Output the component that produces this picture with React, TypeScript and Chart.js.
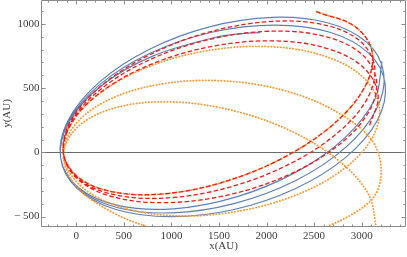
import React, { useEffect, useRef } from 'react';
import { Chart, registerables } from 'chart.js';

Chart.register(...registerables);

// Blue solid orbit (several precessing loops)
const blueX = [3213, 3142, 2825, 2310, 1675, 1018, 437, 22, -165,
  -87, 237, 759, 1399, 2059, 2639, 3051, 3231, 3153, 2829, 2307, 1667, 1007, 427, 15, -165,
  -79, 253, 781, 1425, 2087, 2665, 3073, 3247, 3161, 2829, 2301, 1657, 995, 417, 9, -165,
  -72, 268, 802, 1451, 1749, 1930];
const blueY = [708, 419, 115, -154, -349, -440, -413, -273, -40,
  248, 543, 799, 977, 1051, 1009, 858, 620, 332, 37, -219, -397, -471, -429, -278, -40,
  246, 531, 773, 935, 991, 935, 772, 530, 244, -41, -283, -445, -501, -445, -282, -40,
  243, 521, 749, 894, 925, 932];

// Red dashed orbit
const redX = [2525, 2932, 3111, 3042, 2739, 2243, 1633, 1001, 443, 44, -135,
  -59, 256, 759, 1375, 2011, 2568, 2963, 3135, 3059, 2744, 2241, 1625, 989, 432, 37, -135,
  -50, 273, 783, 1405, 2043, 2599, 2990, 3155, 3070, 2747, 2237, 1615, 977, 421, 30, -135,
  -41, 290, 808, 1435, 2074, 2630, 3015, 3173, 3079];
const redY = [1095, 978, 780, 522, 243, -15, -211, -317, -315, -208, -10,
  246, 514, 755, 932, 1017, 998, 878, 674, 418, 150, -91, -268, -353, -334, -214, -10,
  243, 501, 725, 880, 943, 905, 771, 562, 309, 51, -173, -328, -391, -353, -219, -10,
  239, 486, 692, 826, 868, 810, 663, 448, 199];

// Orange dotted orbit (strong precession)
const orangeX = [2525, 2932, 3111, 3042, 2739, 2243, 1633, 1001, 443, 44, -135,
  -35, 305, 828, 1459, 2100, 2654, 3035, 3187, 3087, 2748, 2224, 1593, 952, 399, 17, -135,
  3, 374, 921, 1561, 2197, 2732, 3105, 3205, 3090, 2560, 2100, 1500, 900, 400, -10, -135,
  32, 425, 983, 1621, 2243, 2751, 3072, 3155];
const orangeY = [1095, 978, 780, 522, 243, -15, -211, -317, -315, -208, -10,
  246, 491, 686, 801, 820, 738, 570, 340, 84, -162, -356, -471, -490, -409, -240, -10,
  229, 421, 535, 556, 479, 317, 95, -156, -380, -600, -680, -700, -610, -475, -255, -10,
  209, 350, 393, 330, 171, -60, -327, -590];

const xTickValues = [0, 500, 1000, 1500, 2000, 2500, 3000];
const xTickLabels = ['0', '500', '1000', '1500', '2000', '2500', '3000'];
const yTickValues = [-500, 0, 500, 1000];
const yTickLabels = ['\u2212 500', '0', '500', '1000'];

const X_MIN = -371;
const X_MAX = 3466;
const Y_MIN = -581;
const Y_MAX = 1186;

const FRAME = '#8a8a8a';
const LABEL = '#3c3c3c';
const FONT = "'Liberation Serif', 'Times New Roman', serif";

const pts = (xs: number[], ys: number[]) => xs.map((x, i) => ({ x, y: ys[i] }));

const framePlugin = {
  id: 'mmaFrame',
  beforeDatasetsDraw(chart: any) {
    const { ctx, chartArea: a, scales } = chart;
    const y0 = Math.round(scales.y.getPixelForValue(0)) + 0.5;
    ctx.save();
    ctx.strokeStyle = '#6a6a6a';
    ctx.lineWidth = 1;
    ctx.beginPath();
    ctx.moveTo(a.left, y0);
    ctx.lineTo(a.right, y0);
    ctx.stroke();
    ctx.restore();
  },
  afterDraw(chart: any) {
    const { ctx, chartArea: a, scales } = chart;
    const L = a.left + 0.5, R = a.right - 0.5, T = a.top + 0.5, B = a.bottom - 0.5;
    ctx.save();
    ctx.strokeStyle = FRAME;
    ctx.lineWidth = 1;
    ctx.beginPath();
    ctx.rect(L, T, R - L, B - T);
    ctx.stroke();
    ctx.beginPath();
    for (let v = -300; v <= 3400; v += 100) {
      const p = Math.round(scales.x.getPixelForValue(v)) + 0.5;
      const len = v % 500 === 0 ? 4 : 2;
      ctx.moveTo(p, B); ctx.lineTo(p, B - len);
      ctx.moveTo(p, T); ctx.lineTo(p, T + len);
    }
    for (let v = -500; v <= 1100; v += 100) {
      const p = Math.round(scales.y.getPixelForValue(v)) + 0.5;
      const len = v % 500 === 0 ? 4 : 2;
      ctx.moveTo(L, p); ctx.lineTo(L + len, p);
      ctx.moveTo(R, p); ctx.lineTo(R - len, p);
    }
    ctx.stroke();
    ctx.restore();
  },
};

export default function App() {
  const ref = useRef<HTMLCanvasElement | null>(null);
  useEffect(() => {
    if (!ref.current) return;
    const chart = new Chart(ref.current, {
      type: 'scatter',
      data: {
        datasets: [
          {
            data: pts(redX, redY),
            showLine: true,
            borderColor: 'rgb(245,25,25)',
            borderWidth: 1.3,
            borderDash: [4.5, 2.4],
            pointRadius: 0,
            tension: 0.35,
            fill: false,
          },
          {
            data: pts(orangeX, orangeY),
            showLine: true,
            borderColor: 'rgb(255,150,45)',
            borderWidth: 1.8,
            borderDash: [0.3, 2.8],
            borderCapStyle: 'round',
            pointRadius: 0,
            tension: 0.35,
            fill: false,
          },
          {
            data: pts(blueX, blueY),
            showLine: true,
            borderColor: '#5e81b5',
            borderWidth: 1.2,
            pointRadius: 0,
            tension: 0.35,
            fill: false,
          },
        ],
      },
      options: {
        animation: false,
        responsive: false,
        devicePixelRatio: 1,
        events: [],
        layout: { padding: { top: 0, right: 1, bottom: 0, left: 0 } },
        plugins: { legend: { display: false }, tooltip: { enabled: false } },
        scales: {
          x: {
            type: 'linear',
            min: X_MIN,
            max: X_MAX,
            grid: { display: false, drawTicks: false },
            border: { display: false },
            afterBuildTicks: (s: any) => { s.ticks = xTickValues.map((v) => ({ value: v })); },
            afterFit: (s: any) => { s.height = 30; s.paddingLeft = 0; s.paddingRight = 0; },
            ticks: {
              padding: 2.5,
              maxRotation: 0,
              autoSkip: false,
              color: LABEL,
              font: { family: FONT, size: 11 },
              callback: (v: any) => { const i = xTickValues.indexOf(Number(v)); return i >= 0 ? xTickLabels[i] : ''; },
            },
            title: { display: true, text: 'x(AU)', color: LABEL, font: { family: FONT, size: 11 }, padding: { top: 0, bottom: 4 } },
          },
          y: {
            type: 'linear',
            min: Y_MIN,
            max: Y_MAX,
            grid: { display: false, drawTicks: false },
            border: { display: false },
            afterBuildTicks: (s: any) => { s.ticks = yTickValues.map((v) => ({ value: v })); },
            afterFit: (s: any) => { s.width = 41; s.paddingTop = 0; s.paddingBottom = 0; },
            ticks: {
              padding: 1.5,
              autoSkip: false,
              color: LABEL,
              font: { family: FONT, size: 11 },
              callback: (v: any) => { const i = yTickValues.indexOf(Number(v)); return i >= 0 ? yTickLabels[i] : ''; },
            },
            title: { display: true, text: 'y(AU)', color: LABEL, font: { family: FONT, size: 11 }, padding: { top: 1, bottom: 0 } },
          },
        },
      },
      plugins: [framePlugin],
    } as any);
    return () => chart.destroy();
  }, []);
  return (
    <div style={{ position: 'fixed', left: 0, top: 0, width: 407, height: 257, background: '#fff' }}>
      <canvas ref={ref} width={407} height={257} style={{ display: 'block', width: 407, height: 257 }} />
    </div>
  );
}
